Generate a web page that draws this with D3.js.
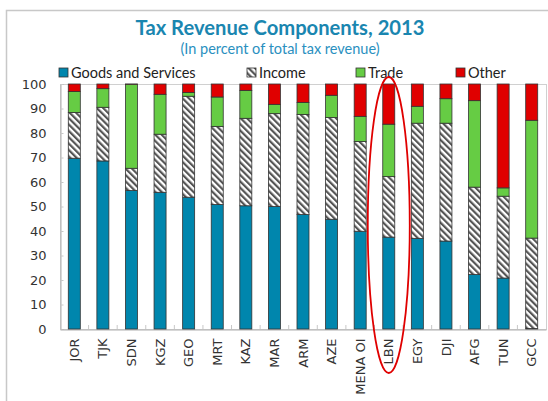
<!DOCTYPE html>
<html><head><meta charset="utf-8">
<script src="https://cdn.jsdelivr.net/npm/d3@7"></script>
<style>body{margin:0;background:#fff}svg{display:block}</style>
</head><body>
<svg id="c" width="548" height="401"></svg>
<script>
const categories = ["JOR","TJK","SDN","KGZ","GEO","MRT","KAZ","MAR","ARM","AZE","MENA OI","LBN","EGY","DJI","AFG","TUN","GCC"];
const goods  = [69.7,68.6,56.5,55.8,53.8,50.8,50.3,50.0,46.7,44.8,39.9,37.5,37.0,35.9,22.3,20.8,0.2];
const income = [18.7,21.9,9.1,23.7,41.2,31.9,35.7,37.9,40.9,41.5,36.6,24.7,47.0,48.1,35.6,33.4,36.9];
const trade  = [8.5,7.6,34.3,16.3,1.5,12.0,11.4,3.8,4.9,9.1,10.3,21.4,6.9,10.0,35.3,3.4,48.1];
const other  = [3.1,1.9,0.1,4.2,3.5,5.3,2.6,8.3,7.5,4.6,13.2,16.4,9.1,6.0,6.8,42.4,14.8];
const seriesNames = ["Goods and Services","Income","Trade","Other"];
const yTicks = [0,10,20,30,40,50,60,70,80,90,100];

const svg = d3.select("#c");
const fontTick = "'DejaVu Sans', Verdana, sans-serif";
const blue = "#0086ad", green = "#66cc44", red = "#e00000";

// outer frame
svg.append("rect").attr("x",6.5).attr("y",10.5).attr("width",600).attr("height",450)
  .attr("fill","none").attr("stroke","#c8c8c8").attr("stroke-width",1.5);

// hatch pattern
const defs = svg.append("defs");
const pat = defs.append("pattern").attr("id","hatch").attr("patternUnits","userSpaceOnUse")
  .attr("width",4.5).attr("height",4.5).attr("patternTransform","rotate(-45)");
pat.append("rect").attr("width",4.5).attr("height",4.5).attr("fill","#fff");
pat.append("rect").attr("width",2.2).attr("height",4.5).attr("fill","#555");

const x = d3.scaleBand().domain(categories).range([60, 546]).paddingInner(0.58).paddingOuter(0.29);
const y = d3.scaleLinear().domain([0,100]).range([329, 84]);

// title
svg.append("text").attr("x",280).attr("y",35).attr("text-anchor","middle")
  .attr("font-family","Lato, 'Open Sans', sans-serif").attr("font-weight","bold")
  .attr("font-size",20.2).attr("fill","#1a86b0").text("Tax Revenue Components, 2013");
svg.append("text").attr("x",280).attr("y",54).attr("text-anchor","middle")
  .attr("font-family","Lato, 'Open Sans', sans-serif")
  .attr("font-size",14.5).attr("fill","#2a90c0").text("(In percent of total tax revenue)");

// plot box
svg.append("rect").attr("x",60.5).attr("y",84.5).attr("width",486).attr("height",245)
  .attr("fill","none").attr("stroke","#d0d0d0");

// y axis
const yAxis = d3.axisLeft(y).tickValues(yTicks).tickSize(-3).tickPadding(14);
const gy = svg.append("g").attr("transform","translate(60.5,0)").call(yAxis);
gy.select(".domain").attr("stroke","#b0b0b0");
gy.selectAll(".tick line").attr("stroke","#c8c8c8");
gy.selectAll(".tick text").attr("font-family",fontTick).attr("font-size",13).attr("fill","#333");

// x axis
const xAxis = d3.axisBottom(x).tickSize(0).tickPadding(0);
const gx = svg.append("g").attr("transform","translate(0,329.5)").call(xAxis);
gx.select(".domain").attr("stroke","#b0b0b0");
gx.selectAll(".tick text").attr("font-family",fontTick).attr("font-size",13).attr("fill","#333")
  .attr("transform","rotate(-90)").attr("text-anchor","end").attr("x",-9).attr("y",0).attr("dy","0.35em");
// category separator ticks
const step = x.step();
svg.append("g").selectAll("line").data(categories.slice(1)).join("line")
  .attr("x1",d=>x(d)-(step-x.bandwidth())/2).attr("x2",d=>x(d)-(step-x.bandwidth())/2)
  .attr("y1",329).attr("y2",325).attr("stroke","#c8c8c8");

// stacked bars
const rows = categories.map((c,i)=>({cat:c, "Goods and Services":goods[i], "Income":income[i], "Trade":trade[i], "Other":other[i]}));
const stack = d3.stack().keys(seriesNames)(rows);
const fills = {"Goods and Services":blue, "Income":"url(#hatch)", "Trade":green, "Other":red};
svg.append("g").selectAll("g").data(stack).join("g").attr("fill",d=>fills[d.key])
  .selectAll("rect").data(d=>d).join("rect")
  .attr("x",d=>x(d.data.cat)).attr("width",x.bandwidth())
  .attr("y",d=>y(d[1])).attr("height",d=>y(d[0])-y(d[1]))
  .attr("stroke","#333").attr("stroke-width",0.8);

// legend
const legX = [59,247,356,456];
const lg = svg.append("g").selectAll("g").data(seriesNames).join("g")
  .attr("transform",(d,i)=>`translate(${legX[i]},68)`);
lg.append("rect").attr("width",9).attr("height",9).attr("fill",d=>fills[d]).attr("stroke","#333").attr("stroke-width",0.8);
lg.append("text").attr("x",12).attr("y",10).attr("font-family","Lato, 'Open Sans', sans-serif").attr("font-size",14.5)
  .attr("fill","#222").text(d=>d);

// highlight ellipse around LBN
svg.append("ellipse").attr("cx",x("LBN")+x.bandwidth()/2).attr("cy",225).attr("rx",21).attr("ry",148)
  .attr("fill","none").attr("stroke","#e00000").attr("stroke-width",1.8);
</script>
</body></html>
